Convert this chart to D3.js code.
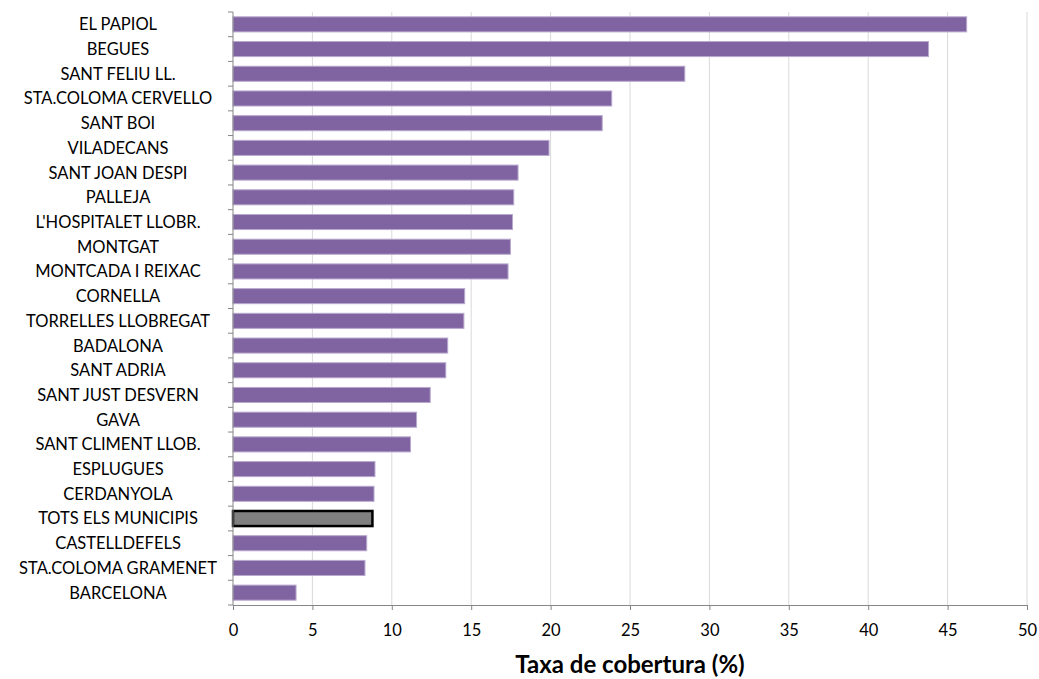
<!DOCTYPE html>
<html>
<head>
<meta charset="utf-8">
<script src="https://cdn.jsdelivr.net/npm/d3@7"></script>
<style>
  body { margin: 0; background: #fff; }
  svg text { font-family: Lato, "Open Sans", sans-serif; fill: #000; }
</style>
</head>
<body>
<svg id="chart" width="1039" height="679"></svg>
<script>
// Categories, top to bottom
const municipis = [
    'EL PAPIOL', 'BEGUES', 'SANT FELIU LL.', 'STA.COLOMA CERVELLO', 'SANT BOI',
    'VILADECANS', 'SANT JOAN DESPI', 'PALLEJA', "L'HOSPITALET LLOBR.", 'MONTGAT',
    'MONTCADA I REIXAC', 'CORNELLA', 'TORRELLES LLOBREGAT', 'BADALONA', 'SANT ADRIA',
    'SANT JUST DESVERN', 'GAVA', 'SANT CLIMENT LLOB.', 'ESPLUGUES', 'CERDANYOLA',
    'TOTS ELS MUNICIPIS', 'CASTELLDEFELS', 'STA.COLOMA GRAMENET', 'BARCELONA'
];

// Taxa de cobertura (%)
const taxa = [
    46.2, 43.8, 28.45, 23.85, 23.25,
    19.9, 17.95, 17.68, 17.6, 17.47,
    17.32, 14.59, 14.54, 13.52, 13.4,
    12.42, 11.56, 11.18, 8.94, 8.88,
    8.78, 8.42, 8.31, 3.97
];

const xTicks = [0, 5, 10, 15, 20, 25, 30, 35, 40, 45, 50];
const totalLabel = 'TOTS ELS MUNICIPIS';

const svg = d3.select('#chart');
const margin = { left: 233, right: 1027, top: 12, bottom: 605 };

const x = d3.scaleLinear().domain([0, 50]).range([margin.left, margin.right]);
const y = d3.scaleBand().domain(municipis).range([margin.top, margin.bottom]).paddingInner(0.39).paddingOuter(0.195);
const yEdge = d3.scaleBand().domain(municipis).range([margin.top, margin.bottom]);

// Vertical gridlines
svg.append('g')
    .selectAll('line')
    .data(xTicks.slice(1))
    .join('line')
    .attr('x1', d => x(d)).attr('x2', d => x(d))
    .attr('y1', margin.top).attr('y2', margin.bottom)
    .attr('stroke', '#d9d9d9')
    .attr('stroke-width', 1);

// Bars
const data = municipis.map((m, i) => ({ name: m, value: taxa[i] }));
svg.append('g')
    .selectAll('rect')
    .data(data)
    .join('rect')
    .attr('x', x(0))
    .attr('y', d => y(d.name))
    .attr('width', d => x(d.value) - x(0))
    .attr('height', y.bandwidth())
    .attr('fill', d => d.name === totalLabel ? '#808080' : '#8064a2')
    .attr('stroke', d => d.name === totalLabel ? '#000' : '#b9a9cf')
    .attr('stroke-width', d => d.name === totalLabel ? 2.5 : 1);

// Left axis line and category ticks
const left = svg.append('g');
left.append('line')
    .attr('x1', x(0)).attr('x2', x(0))
    .attr('y1', margin.top).attr('y2', margin.bottom)
    .attr('stroke', '#868686');
left.selectAll('line.tk')
    .data(municipis.concat(['end']))
    .join('line')
    .attr('class', 'tk')
    .attr('x1', x(0) - 5).attr('x2', x(0))
    .attr('y1', (d, i) => margin.top + i * yEdge.step())
    .attr('y2', (d, i) => margin.top + i * yEdge.step())
    .attr('stroke', '#868686');

left.selectAll('text')
    .data(municipis)
    .join('text')
    .attr('x', 118)
    .attr('y', d => y(d) + y.bandwidth() / 2)
    .attr('dy', '0.36em')
    .attr('text-anchor', 'middle')
    .attr('font-size', '16.5px')
    .text(d => d);

// Bottom axis
const xAxis = d3.axisBottom(x).tickValues(xTicks).tickSize(5).tickPadding(14);
const gx = svg.append('g')
    .attr('transform', `translate(0,${margin.bottom})`)
    .call(xAxis);
gx.select('.domain').attr('stroke', '#868686');
gx.selectAll('.tick line').attr('stroke', '#868686');
gx.selectAll('.tick text')
    .attr('font-size', '16.5px')
    .attr('font-family', 'Lato, "Open Sans", sans-serif')
    .attr('fill', '#000');

// Axis title
svg.append('text')
    .attr('x', 630)
    .attr('y', 673)
    .attr('text-anchor', 'middle')
    .attr('font-size', '24px')
    .attr('font-weight', 'bold')
    .text('Taxa de cobertura (%)');
</script>
</body>
</html>
